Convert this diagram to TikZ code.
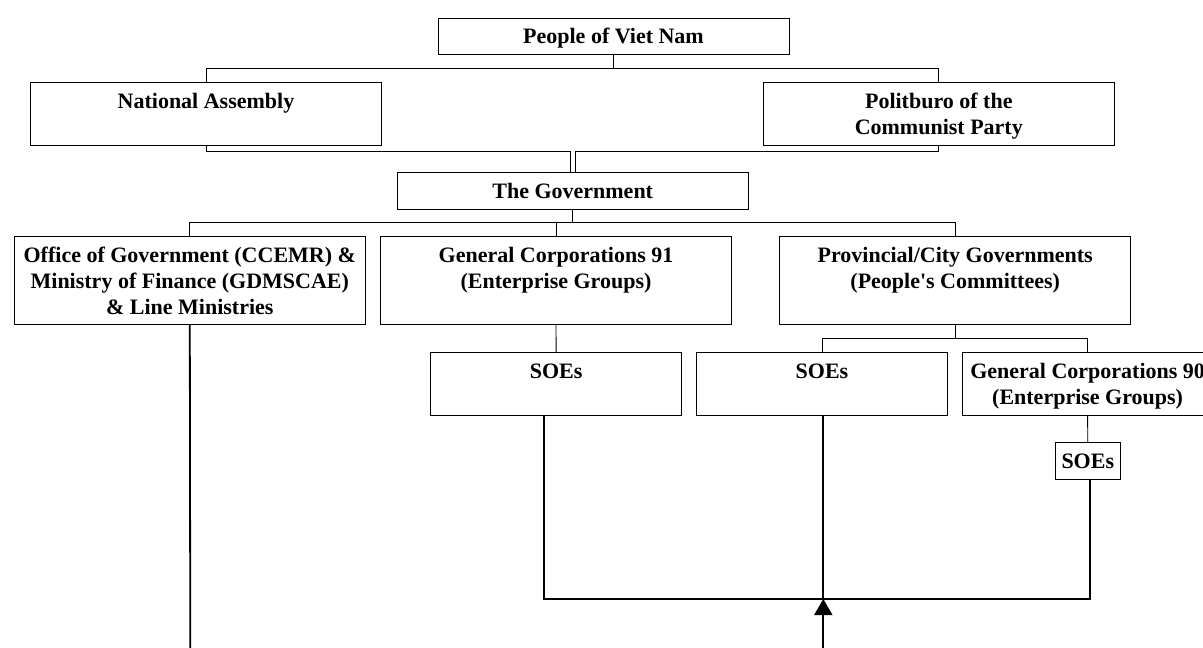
\documentclass[tikz,border=0pt]{standalone}
\usepackage{fontspec}
\setmainfont{Liberation Serif}
\usetikzlibrary{arrows.meta}
\begin{document}
\begin{tikzpicture}[x=1pt,y=-1pt,
  box/.style={draw=black,line width=0.9pt,fill=white,inner sep=0pt,outer sep=0pt,minimum width=351pt},
  midbox/.style={box,minimum width=251pt},
  hone/.style={minimum height=36.5pt},
  htwo/.style={minimum height=62.7pt},
  hthree/.style={minimum height=88pt},
  txt/.style={font=\fontsize{22}{26}\selectfont\bfseries,align=center,inner sep=0pt,anchor=north},
  conn/.style={line width=0.9pt},
  heavy/.style={line width=1.8pt}]
\useasboundingbox (0,0) rectangle (1203,648);
\clip (0,0) rectangle (1203,648);

% boxes
\node[box,hone]   (people) at (613.5,36.3) {};
\node[box,htwo]   (na)     at (206,113.7) {};
\node[box,htwo]   (pb)     at (938.8,113.7) {};
\node[box,hone]   (gov)    at (572.7,190.7) {};
\node[box,hthree] (office) at (189.8,280.7) {};
\node[box,hthree] (gc91)   at (556,280.7) {};
\node[box,hthree] (prov)   at (955.2,280.7) {};
\node[midbox,htwo] (soesa) at (556.1,383.7) {};
\node[midbox,htwo] (soesb) at (822,383.7) {};
\node[midbox,htwo] (gc90)  at (1087.6,383.7) {};
\node[box,minimum width=65pt,minimum height=36.3pt] (soesc) at (1087.8,460.8) {};

% texts
\node[txt] (tpeople) at ([yshift=-7.5pt]people.north) {\strut People of Viet Nam};
\node[txt] (tna)     at ([yshift=-7.5pt]na.north) {\strut National Assembly};
\node[txt] (tpb)     at ([yshift=-7.5pt]pb.north) {\strut Politburo of the\\\strut Communist Party};
\node[txt] (tgov)    at ([yshift=-7.5pt]gov.north) {\strut The Government};
\node[txt] (toffice) at ([yshift=-7.5pt]office.north) {\strut Office of Government (CCEMR) \&\\\strut Ministry of Finance (GDMSCAE)\\\strut \& Line Ministries};
\node[txt] (tgca)    at ([yshift=-7.5pt]gc91.north) {\strut General Corporations 91\\\strut (Enterprise Groups)};
\node[txt] (tprov)   at ([yshift=-7.5pt]prov.north) {\strut Provincial/City Governments\\\strut (People\textquotesingle s Committees)};
\node[txt] (tsoesa)  at ([yshift=-7.5pt]soesa.north) {\strut SOEs};
\node[txt] (tsoesb)  at ([yshift=-7.5pt]soesb.north) {\strut SOEs};
\node[txt] (tgcb)    at ([yshift=-7.5pt]gc90.north) {\strut General Corporations 90\\\strut (Enterprise Groups)};
\node[txt] (tsoesc)  at ([yshift=-7.5pt]soesc.north) {\strut SOEs};

% connector coordinates
\coordinate (topbar) at (613.5,68.3);
\coordinate (midbar) at (572.7,151);
\coordinate (govbar) at (572.7,222.3);
\coordinate (provbar) at (955.2,338.3);
\coordinate (collect) at (823.3,599);
\coordinate (arrowfoot) at (823.3,652);
\coordinate (officefoot) at (190.3,652);

% upper connectors
\draw[conn] (people.south) -- (topbar);
\draw[conn] (na.north) |- (topbar) -| (pb.north);
\draw[conn] (na.south) |- ([xshift=-2.4pt]midbar) -- ([xshift=-2.4pt]gov.north);
\draw[conn] (pb.south) |- ([xshift=2.4pt]midbar) -- ([xshift=2.4pt]gov.north);
\draw[conn] (gov.south) -- (govbar);
\draw[conn] (office.north) |- (govbar) -| (prov.north);
\draw[conn] (gc91.north) -- (gc91.north |- govbar);
\draw[conn] (gc91.south) -- (soesa.north);
\draw[conn] (prov.south) -- (provbar);
\draw[conn] (soesb.north) |- (provbar) -| (gc90.north);
\draw[conn] (gc90.south) -- (soesc.north);

% lower connectors
\draw[heavy] (office.south) -- (officefoot);
\draw[heavy] ([xshift=-11.8pt]soesa.south) |- (collect);
\draw[heavy] ([xshift=2.4pt]soesc.south) |- (collect);
\draw[heavy] ([xshift=1.3pt]soesb.south) -- (collect);
\draw[heavy,-{Triangle[length=16pt,width=18pt]}] (arrowfoot) -- (collect);
\end{tikzpicture}
\end{document}
